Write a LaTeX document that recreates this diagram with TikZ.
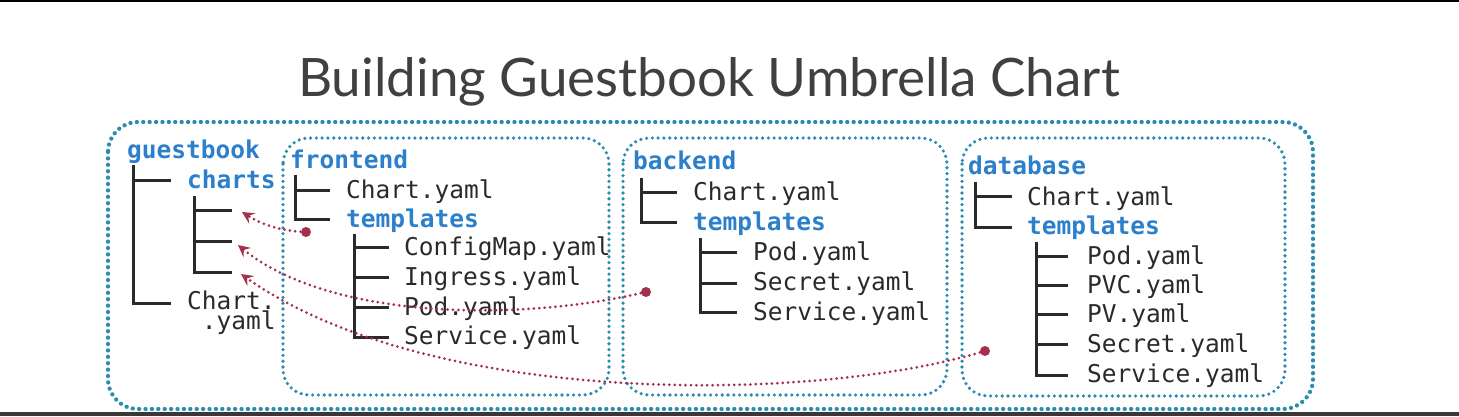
\documentclass[tikz,border=0pt]{standalone}
\usepackage{fontspec}
\setmainfont{Lato}
\setmonofont{DejaVu Sans Mono}
\usetikzlibrary{arrows.meta}
\definecolor{boxc}{HTML}{2B8CAE}
\definecolor{dirc}{HTML}{2C7FCB}
\definecolor{filec}{HTML}{2A2A2A}
\definecolor{linkc}{HTML}{A5304E}
\definecolor{titlec}{HTML}{404040}
\tikzset{
  outerbox/.style={draw=boxc, line width=4.3pt, dash pattern=on 0pt off 6.4pt, line cap=round, rounded corners=30pt},
  innerbox/.style={draw=boxc, line width=3.6pt, dash pattern=on 0pt off 5.8pt, line cap=round, rounded corners=26pt},
  dirname/.style={anchor=mid west, inner sep=0pt, yshift=-6pt, text=dirc, font=\ttfamily\bfseries\fontsize{24.5}{29}\selectfont},
  fname/.style={anchor=mid west, inner sep=0pt, yshift=-6pt, text=filec, font=\ttfamily\fontsize{24.5}{29}\selectfont},
  branch/.style={draw=filec, line width=3pt},
  link/.style={draw=linkc, line width=3pt, dash pattern=on 0pt off 5.4pt, line cap=round,
    -{Stealth[open, length=12pt, width=12pt, inset=4.5pt, line width=2.4pt]}},
  linkdot/.style={circle, fill=linkc, inner sep=0pt, minimum size=10pt},
}
\begin{document}
\begin{tikzpicture}[x=1pt,y=-1pt]
\useasboundingbox (0,0) rectangle (1459,416);
\fill[black] (0,0) rectangle (1459,2);
\fill[black!78] (0,412) rectangle (1459,416);

% title
\node[text=titlec, font=\fontsize{53}{63}\selectfont, inner sep=0pt, anchor=base] (title) at (709,96) {Building Guestbook Umbrella Chart};

% boxes
\draw[outerbox] (108,122) rectangle (1313,409);
\draw[innerbox] (283,138) rectangle (609,395);
\draw[innerbox] (623,138) rectangle (947,395);
\draw[innerbox] (962,138) rectangle (1285,396);

% guestbook
\node[dirname] (gb) at (127,150) {guestbook};
\node[dirname] (charts) at (187,180) {charts};
\node[anchor=north west, inner sep=0pt, text=filec, align=left,
      font=\ttfamily\fontsize{24.5}{18.5}\selectfont] (gbchart) at (187,291) {Chart.\\\hphantom{C}.yaml};
\draw[branch] (133,165) -- (133,303) -- (171,303);
\draw[branch] (133,180) -- (171,180);
\draw[branch] (194,196) -- (194,272) -- (232,272);
\draw[branch] (194,210) -- (232,210);
\draw[branch] (194,241) -- (232,241);
\coordinate (slot1) at (242,212);
\coordinate (slot2) at (238,245);
\coordinate (slot3) at (241,274);

% frontend
\node[dirname] (fe) at (290,160) {frontend};
\node[fname] (fechart) at (346,190) {Chart.yaml};
\node[dirname] (fetpl) at (346,219) {templates};
\node[fname] (fe1) at (404,247) {ConfigMap.yaml};
\node[fname] (fe2) at (404,277) {Ingress.yaml};
\node[fname] (fe3) at (404,307) {Pod.yaml};
\node[fname] (fe4) at (404,336) {Service.yaml};
\draw[branch] (295,175) -- (295,219) -- (330,219);
\draw[branch] (295,190) -- (330,190);
\draw[branch] (354,234) -- (354,337) -- (389,337);
\draw[branch] (354,247) -- (389,247);
\draw[branch] (354,277) -- (389,277);
\draw[branch] (354,307) -- (389,307);

% backend
\node[dirname] (be) at (633,161) {backend};
\node[fname] (bechart) at (693,192) {Chart.yaml};
\node[dirname] (betpl) at (693,222) {templates};
\node[fname] (be1) at (753,252) {Pod.yaml};
\node[fname] (be2) at (753,282) {Secret.yaml};
\node[fname] (be3) at (753,312) {Service.yaml};
\draw[branch] (641,178) -- (641,222) -- (677,222);
\draw[branch] (641,192) -- (677,192);
\draw[branch] (700,238) -- (700,312) -- (737,312);
\draw[branch] (700,252) -- (737,252);
\draw[branch] (700,283) -- (737,283);

% database
\node[dirname] (db) at (968,166) {database};
\node[fname] (dbchart) at (1027,197) {Chart.yaml};
\node[dirname] (dbtpl) at (1027,226) {templates};
\node[fname] (db1) at (1087,256) {Pod.yaml};
\node[fname] (db2) at (1087,285) {PVC.yaml};
\node[fname] (db3) at (1087,314) {PV.yaml};
\node[fname] (db4) at (1087,344) {Secret.yaml};
\node[fname] (db5) at (1087,374) {Service.yaml};
\draw[branch] (975,182) -- (975,227) -- (1012,227);
\draw[branch] (975,196) -- (1012,196);
\draw[branch] (1036,242) -- (1036,375) -- (1068,375);
\draw[branch] (1036,256) -- (1068,256);
\draw[branch] (1036,285) -- (1068,285);
\draw[branch] (1036,314) -- (1068,314);
\draw[branch] (1036,344) -- (1068,344);

% links
\node[linkdot] (fedot) at (306,232) {};
\node[linkdot] (bedot) at (646,292) {};
\node[linkdot] (dbdot) at (985,351) {};
\draw[link] (fedot.center) .. controls (276,231) and (258,222) .. (slot1);
\draw[link] (bedot.center) .. controls (520,322) and (330,320) .. (slot2);
\draw[link] (dbdot.center) .. controls (815,403) and (430,408) .. (slot3);
\end{tikzpicture}
\end{document}
